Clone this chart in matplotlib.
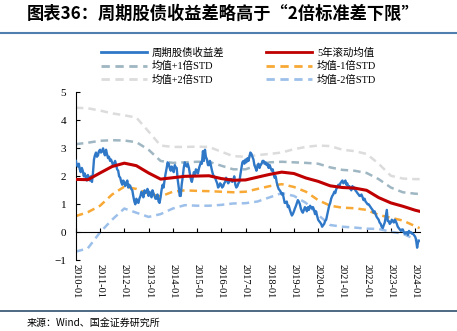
import pandas as pd
import matplotlib
matplotlib.use('Agg')
import matplotlib.pyplot as plt
from matplotlib.lines import Line2D

plt.rcParams['font.family'] = ['Liberation Serif', 'Noto Sans CJK SC']

# 周期股债收益差, semi-monthly (1st / 15th) 2010-01 .. 2024-03
spread = [
    2.55, 2.40, 2.35, 2.45, 2.25, 2.15, 2.30, 2.20, 2.00, 2.10, 1.95, 1.85,
    2.05, 1.95, 1.85, 2.00, 1.80, 2.10, 2.60, 2.75, 2.85, 2.70, 2.75, 2.90,
    2.95, 2.85, 2.90, 3.00, 2.85, 2.75, 2.95, 2.80, 2.65, 2.70, 2.55, 2.60,
    2.50, 2.40, 2.45, 2.55, 2.40, 2.25, 2.20, 2.00, 1.95, 1.80, 1.70, 1.85,
    1.80, 1.65, 1.75, 1.85, 1.60, 1.70, 1.65, 1.55, 1.50, 1.30, 1.10, 1.00,
    1.20, 1.10, 1.05, 1.20, 1.30, 1.45, 1.35, 1.25, 1.50, 1.40, 1.45, 1.55,
    1.30, 1.45, 1.35, 1.25, 1.50, 1.40, 1.30, 1.20, 1.20, 1.35, 1.10, 1.05,
    1.25, 1.50, 1.70, 1.60, 1.90, 2.10, 2.30, 2.50, 2.45, 2.30, 2.20, 2.35,
    2.30, 2.15, 2.40, 2.30, 2.30, 1.90, 1.60, 1.30, 1.30, 1.70, 2.00, 2.30,
    2.50, 2.40, 2.35, 2.45, 2.30, 2.10, 1.90, 1.80, 2.00, 2.15, 2.05, 2.25,
    2.20, 2.10, 2.30, 2.40, 2.50, 2.45, 2.90, 2.55, 2.95, 2.70, 2.60, 2.40,
    2.40, 2.55, 2.35, 2.20, 2.05, 2.00, 1.95, 1.85, 1.75, 1.60, 1.65, 1.75,
    1.70, 1.60, 1.65, 1.75, 1.80, 1.95, 1.85, 1.75, 1.80, 1.90, 1.90, 1.80,
    1.85, 2.00, 1.70, 1.60, 1.65, 1.75, 1.80, 2.05, 2.30, 2.50, 2.55, 2.45,
    2.60, 2.50, 2.65, 2.55, 2.70, 2.85, 2.80, 2.70, 2.60, 2.40, 2.30, 2.20,
    2.35, 2.45, 2.30, 2.40, 2.45, 2.55, 2.55, 2.45, 2.50, 2.40, 2.45, 2.30,
    2.40, 2.30, 2.20, 2.25, 2.10, 1.95, 2.00, 1.80, 1.65, 1.55, 1.50, 1.45,
    1.35, 1.40, 1.20, 1.05, 1.05, 1.10, 0.90, 0.95, 0.80, 0.70, 0.60, 0.65,
    0.75, 0.85, 0.95, 1.05, 1.15, 1.10, 1.00, 0.85, 0.75, 0.70, 0.80, 0.90,
    0.85, 0.75, 0.90, 0.80, 0.95, 0.90, 0.85, 0.90, 0.80, 0.65, 0.75, 0.60,
    0.45, 0.40, 0.35, 0.30, 0.20, 0.25, 0.30, 0.40, 0.45, 0.60, 0.80, 0.95,
    1.05, 1.20, 1.30, 1.35, 1.45, 1.40, 1.55, 1.60, 1.70, 1.65, 1.75, 1.80,
    1.85, 1.75, 1.80, 1.85, 1.70, 1.75, 1.60, 1.65, 1.55, 1.50, 1.65, 1.55,
    1.60, 1.50, 1.45, 1.40, 1.35, 1.30, 1.30, 1.35, 1.25, 1.15, 1.20, 1.10,
    1.05, 1.00, 1.00, 0.95, 0.90, 0.85, 0.80, 0.70, 0.75, 0.65, 0.55, 0.50,
    0.45, 0.35, 0.30, 0.20, 0.15, 0.25, 0.35, 0.55, 0.80, 0.40, 0.40, 0.30,
    0.35, 0.45, 0.40, 0.35, 0.45, 0.40, 0.30, 0.20, 0.15, 0.10, 0.05, 0.10,
    0.10, 0.00, -0.05, 0.00, 0.00, -0.10, 0.05, 0.00, 0.00, -0.05, -0.05, -0.10,
    -0.15, -0.25, -0.55, -0.35, -0.30,
]

# semiannual points 2010-01 .. 2024-01, plus last point 2024-03
mean_5y = [1.89, 1.88, 2.12, 2.35, 2.47, 2.38, 2.12, 1.90, 1.95, 2.00, 2.01, 2.02,
           1.92, 1.86, 1.87, 1.97, 2.07, 2.15, 2.10, 1.94, 1.82, 1.66, 1.60, 1.58,
           1.50, 1.24, 1.05, 0.93, 0.79, 0.75]
plus1 = [3.15, 3.20, 3.27, 3.29, 3.28, 3.22, 2.95, 2.55, 2.48, 2.50, 2.52, 2.52,
         2.38, 2.25, 2.25, 2.40, 2.50, 2.52, 2.50, 2.48, 2.45, 2.32, 2.23, 2.20,
         2.12, 1.90, 1.60, 1.43, 1.38, 1.37]
minus1 = [0.58, 0.72, 0.95, 1.35, 1.63, 1.55, 1.38, 1.28, 1.45, 1.50, 1.48, 1.47,
          1.45, 1.43, 1.45, 1.55, 1.65, 1.72, 1.62, 1.45, 1.15, 0.95, 0.88, 0.86,
          0.80, 0.62, 0.52, 0.42, 0.22, 0.15]
plus2 = [4.45, 4.43, 4.35, 4.25, 4.18, 4.10, 3.60, 3.10, 3.05, 3.05, 3.06, 3.05,
         2.88, 2.72, 2.70, 2.76, 2.80, 2.85, 2.97, 3.05, 3.10, 3.08, 2.95, 2.90,
         2.80, 2.45, 2.02, 1.92, 1.90, 1.90]
minus2 = [-0.69, -0.57, 0.00, 0.45, 0.85, 0.70, 0.55, 0.65, 0.85, 0.97, 0.95, 0.95,
          0.98, 1.03, 1.04, 1.10, 1.25, 1.40, 1.30, 1.05, 0.62, 0.26, 0.20, 0.17,
          0.13, 0.12, 0.02, -0.05, -0.25, -0.33]

tick_labels = ['%d-01' % y for y in range(2010, 2025)]

spread_dates = pd.date_range('2010-01-01', periods=len(spread), freq='SMS')
band_dates = list(pd.date_range('2010-01-01', '2024-01-01', freq='6MS')) + [pd.Timestamp('2024-03-10')]

fig = plt.figure(figsize=(4.57, 3.31), dpi=100)
ax = fig.add_axes([0.166, 0.2136, 0.753, 0.5074])

ax.plot(band_dates, plus2, color='#DCDCDC', lw=1.8, dashes=(3, 2), zorder=2)
ax.plot(band_dates, plus1, color='#9FB6C3', lw=1.8, dashes=(3, 2), zorder=2)
ax.plot(band_dates, minus2, color='#9DC0EA', lw=1.8, dashes=(3, 2), zorder=2)
ax.plot(band_dates, minus1, color='#F8A935', lw=1.8, dashes=(3, 2), zorder=2)
ax.plot(spread_dates, spread, color='#2F78C8', lw=1.7, zorder=3)
ax.plot(band_dates, mean_5y, color='#C00000', lw=2.2, zorder=4)

ax.set_ylim(-1, 5)
ax.set_xlim(pd.Timestamp('2010-01-01'), pd.Timestamp('2024-03-15'))
ax.set_yticks(range(-1, 6))
ax.tick_params(axis='y', direction='in', length=3, labelsize=8, pad=7)

tick_dates = pd.to_datetime([t + '-01' for t in tick_labels])
ax.set_xticks(tick_dates)
ax.spines['bottom'].set_position(('data', 0))
ax.spines['top'].set_visible(False)
ax.spines['right'].set_visible(False)
ax.tick_params(axis='x', direction='in', length=3, labelbottom=False)

sec = ax.secondary_xaxis('bottom')
sec.set_xticks(tick_dates)
sec.set_xticklabels(tick_labels, rotation=-90, fontsize=7.5)
sec.tick_params(length=0, pad=3)
sec.spines['bottom'].set_visible(False)

# legend fills column by column: left column then right column
handles = [
    Line2D([], [], color='#2F78C8', lw=2),
    Line2D([], [], color='#9FB6C3', lw=2, dashes=(3, 2)),
    Line2D([], [], color='#DCDCDC', lw=2, dashes=(3, 2)),
    Line2D([], [], color='#C00000', lw=2),
    Line2D([], [], color='#F8A935', lw=2, dashes=(3, 2)),
    Line2D([], [], color='#9DC0EA', lw=2, dashes=(3, 2)),
]
labels = ['周期股债收益差', '均值+1倍STD', '均值+2倍STD', '5年滚动均值', '均值-1倍STD', '均值-2倍STD']
fig.legend(handles, labels, ncol=2, loc='center', bbox_to_anchor=(0.522, 0.80),
           frameon=False, fontsize=7.5, handlelength=4.4, handletextpad=0.5,
           columnspacing=4.0, labelspacing=0.35)

fig.text(0.059, 0.958, '图表36：周期股债收益差略高于“2倍标准差下限”', fontsize=12.4,
         fontweight='bold', family=['Noto Sans CJK SC'], va='center', ha='left')
fig.add_artist(Line2D([0, 1], [0.9, 0.9], color='#4F7FAF', lw=1.5))
fig.add_artist(Line2D([0, 1], [0.06, 0.06], color='#2F4F6F', lw=1.2))
fig.text(0.058, 0.022, '来源：Wind、国金证券研究所', fontsize=7.2,
         family=['Noto Sans CJK SC'], va='center', ha='left')

fig.savefig('out.png', dpi=100)
